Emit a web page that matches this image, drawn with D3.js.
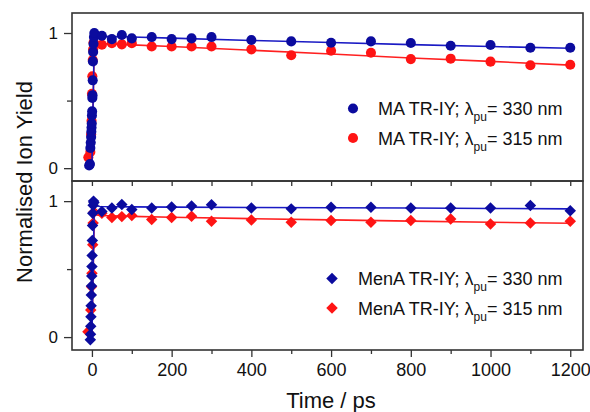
<!DOCTYPE html>
<html>
<head>
<meta charset="utf-8">
<script src="https://cdn.jsdelivr.net/npm/d3@7"></script>
<style>
  body { margin: 0; background: #fff; }
  svg { font-family: Arial, "Liberation Sans", sans-serif; }
</style>
</head>
<body>
<svg id="chart" width="590" height="412"></svg>
<script>
// ---- data ----
const tailT = [25, 50, 75, 100, 150, 200, 250, 300, 400, 500, 600, 700, 800, 900, 1000, 1100, 1200];

// MA (circles)
const maBlueT = [-7, -5, -4, -3, -2, -1.5, -1, -0.5, 0, 0.5, 1, 1.5, 2, 2.5, 3, 4, 5, 6].concat(tailT);
const maBlueY = [0.02, 0.03, 0.15, 0.19, 0.23, 0.27, 0.30, 0.33, 0.39, 0.42, 0.52, 0.54, 0.65, 0.79, 0.86, 0.92, 0.97, 1.0,
  0.98, 0.955, 0.985, 0.96, 0.97, 0.955, 0.96, 0.97, 0.948, 0.938, 0.928, 0.938, 0.926, 0.906, 0.911, 0.891, 0.891];
const maRedT = [-9, -4, -2, -1, 0, 1, 2, 3, 4, 6].concat(tailT);
const maRedY = [0.08, 0.12, 0.25, 0.35, 0.55, 0.68, 0.80, 0.88, 0.93, 0.92,
  0.913, 0.925, 0.916, 0.925, 0.90, 0.90, 0.90, 0.90, 0.879, 0.835, 0.869, 0.854, 0.807, 0.81, 0.788, 0.761, 0.765];

// MenA (diamonds)
const menBlueT = [-4, -3.5, -3, -2.5, -2, -1.5, -1, -0.5, 0, 0.5, 1, 1.5, 2, 3, 4, 5].concat(tailT);
const menBlueY = [-0.02, 0.02, 0.08, 0.15, 0.23, 0.31, 0.375, 0.45, 0.52, 0.60, 0.71, 0.82, 0.91, 0.97, 1.0, 0.99,
  0.923, 0.95, 0.975, 0.938, 0.95, 0.956, 0.965, 0.973, 0.95, 0.943, 0.955, 0.955, 0.95, 0.95, 0.95, 0.968, 0.93];
const menRedT = [-10, -3, -1, 0, 2, 3, 5].concat(tailT);
const menRedY = [0.04, 0.20, 0.37, 0.47, 0.68, 0.84, 0.92,
  0.91, 0.88, 0.886, 0.894, 0.864, 0.88, 0.889, 0.852, 0.861, 0.844, 0.857, 0.844, 0.857, 0.869, 0.832, 0.839, 0.852];

// fitted curves
const fitT = [-6, 0, 6, 20, 100, 200, 400, 600, 800, 1000, 1200];
const maBlueFit = [0, 0.02, 0.97, 0.975, 0.97, 0.962, 0.945, 0.93, 0.914, 0.90, 0.887];
const maRedFit = [0, 0.02, 0.92, 0.922, 0.912, 0.90, 0.872, 0.845, 0.815, 0.79, 0.762];
const menBlueFit = [0, 0.02, 0.97, 0.96, 0.958, 0.956, 0.953, 0.951, 0.949, 0.946, 0.943];
const menRedFit = [0, 0.02, 0.90, 0.894, 0.888, 0.881, 0.871, 0.862, 0.853, 0.845, 0.837];

const xTicks = [0, 200, 400, 600, 800, 1000, 1200];
const xMinor = [100, 300, 500, 700, 900, 1100];
const yTicks = [0, 1];

const BLUE = '#0b0b9e', BLUE_LINE = '#1a1ac4', RED = '#ff1414', RED_LINE = '#ff2020';

const svg = d3.select('#chart');
const left = 72, right = 583;
const x = d3.scaleLinear().domain([-50, 1232]).range([left, right]);

// circle, or a square turned 45 degrees for the diamonds
const marker = (sel, kind) => kind === 'circle'
  ? sel.attr('d', d3.symbol(d3.symbolCircle, 80))
  : sel.attr('d', d3.symbol(d3.symbolSquare, 66));
const rot = kind => kind === 'circle' ? '' : ' rotate(45)';

const panels = [
  { top: 13, bottom: 181, kind: 'circle', name: 'MA',
    series: [
      { t: maBlueT, y: maBlueY, fit: maBlueFit, c: BLUE, lc: BLUE_LINE, label: '330' },
      { t: maRedT, y: maRedY, fit: maRedFit, c: RED, lc: RED_LINE, label: '315' }],
    legend: { mx: 353, tx: 378, y: 115 } },
  { top: 181, bottom: 350, kind: 'diamond', name: 'MenA',
    series: [
      { t: menBlueT, y: menBlueY, fit: menBlueFit, c: BLUE, lc: BLUE_LINE, label: '330' },
      { t: menRedT, y: menRedY, fit: menRedFit, c: RED, lc: RED_LINE, label: '315' }],
    legend: { mx: 332, tx: 358, y: 285 } }
];

panels.forEach((p, i) => {
  const y = d3.scaleLinear().domain([-0.095, 1.148]).range([p.bottom, p.top]);
  const g = svg.append('g');

  // y axis
  g.append('g')
    .attr('transform', `translate(${left},0)`)
    .call(d3.axisLeft(y).tickValues(yTicks).tickFormat(d3.format('d')).tickSize(8).tickSizeOuter(0).tickPadding(6))
    .call(a => a.select('.domain').remove())
    .call(a => a.selectAll('text').attr('font-size', 17).attr('fill', '#111').attr('font-family', 'Arial, Liberation Sans'))
    .call(a => a.selectAll('line').attr('stroke', '#333').attr('stroke-width', 1.3));
  g.append('g')
    .attr('transform', `translate(${left},0)`)
    .call(d3.axisLeft(y).tickValues([0.5]).tickFormat('').tickSize(5).tickSizeOuter(0))
    .call(a => a.select('.domain').remove())
    .call(a => a.selectAll('line').attr('stroke', '#333').attr('stroke-width', 1.3));

  const clip = 'clip' + i;
  svg.append('clipPath').attr('id', clip).append('rect')
    .attr('x', left).attr('y', p.top).attr('width', right - left).attr('height', p.bottom - p.top);
  const plot = g.append('g').attr('clip-path', `url(#${clip})`);

  // series: red drawn first, blue above
  p.series.slice().reverse().forEach(s => {
    plot.append('path')
      .datum(fitT.map((t, k) => [t, s.fit[k]]))
      .attr('fill', 'none').attr('stroke', s.lc).attr('stroke-width', 1.6)
      .attr('d', d3.line().x(d => x(d[0])).y(d => y(d[1])));
    plot.selectAll(null)
      .data(s.t.map((t, k) => [t, s.y[k]]))
      .join('path')
      .attr('transform', d => `translate(${x(d[0])},${y(d[1])})${rot(p.kind)}`)
      .call(marker, p.kind)
      .attr('fill', s.c);
  });

  // legend
  p.series.forEach((s, k) => {
    const ly = p.legend.y + k * 29.5;
    g.append('path')
      .attr('transform', `translate(${p.legend.mx},${ly - 6.5})${rot(p.kind)}`)
      .call(marker, p.kind)
      .attr('fill', s.c);
    const txt = g.append('text')
      .attr('x', p.legend.tx).attr('y', ly)
      .attr('font-size', 18).attr('fill', '#111');
    txt.append('tspan').text(`${p.name} TR-IY; λ`);
    txt.append('tspan').attr('font-size', 12).attr('dy', 6).text('pu');
    txt.append('tspan').attr('dy', -6).text(`= ${s.label} nm`);
  });

  // frame
  g.append('rect')
    .attr('x', left).attr('y', p.top).attr('width', right - left).attr('height', p.bottom - p.top)
    .attr('fill', 'none').attr('stroke', '#333').attr('stroke-width', 1.6);
});

// ticks on divider pointing into lower panel
svg.append('g')
  .attr('transform', 'translate(0,181)')
  .call(d3.axisBottom(x).tickValues(xTicks.concat(xMinor)).tickFormat('').tickSize(5).tickSizeOuter(0))
  .call(a => a.select('.domain').remove())
  .call(a => a.selectAll('line').attr('stroke', '#333').attr('stroke-width', 1.3));

// bottom axis
svg.append('g')
  .attr('transform', 'translate(0,350)')
  .call(d3.axisBottom(x).tickValues(xTicks).tickFormat(d3.format('d')).tickSize(7).tickSizeOuter(0).tickPadding(6))
  .call(a => a.select('.domain').remove())
  .call(a => a.selectAll('text').attr('font-size', 18).attr('fill', '#111').attr('font-family', 'Arial, Liberation Sans'))
  .call(a => a.selectAll('line').attr('stroke', '#333').attr('stroke-width', 1.3));
svg.append('g')
  .attr('transform', 'translate(0,350)')
  .call(d3.axisBottom(x).tickValues(xMinor).tickFormat('').tickSize(4).tickSizeOuter(0))
  .call(a => a.select('.domain').remove())
  .call(a => a.selectAll('line').attr('stroke', '#333').attr('stroke-width', 1.3));

// axis titles
svg.append('text')
  .attr('x', 331).attr('y', 408)
  .attr('text-anchor', 'middle').attr('font-size', 22).attr('fill', '#111')
  .text('Time / ps');
svg.append('text')
  .attr('transform', 'translate(32,182) rotate(-90)')
  .attr('text-anchor', 'middle').attr('font-size', 22).attr('fill', '#111')
  .text('Normalised Ion Yield');
</script>
</body>
</html>
